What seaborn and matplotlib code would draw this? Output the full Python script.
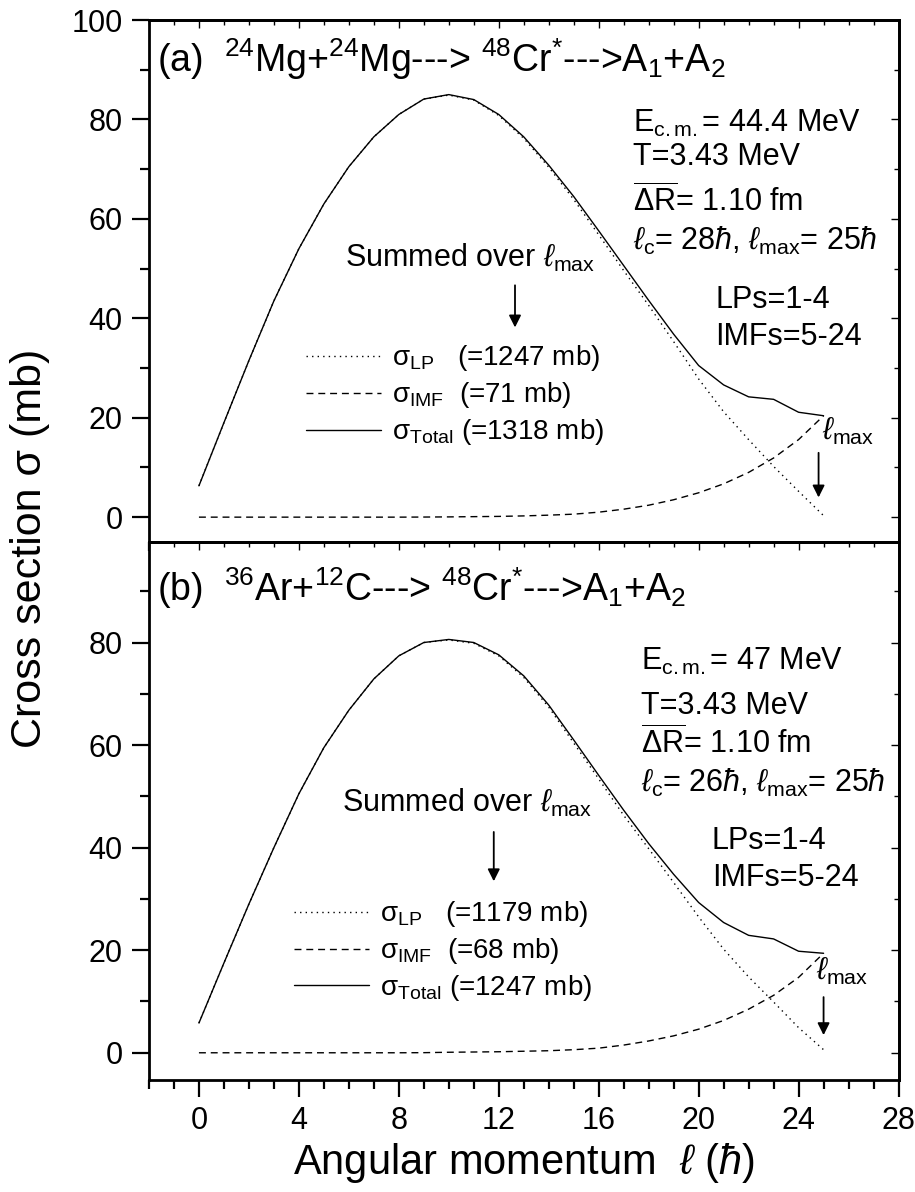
import matplotlib
matplotlib.use('Agg')
import pandas as pd
import matplotlib.pyplot as plt
from matplotlib.ticker import MultipleLocator
import seaborn as sns

sns.set_style('ticks')
plt.rcParams['font.family'] = ['Liberation Sans', 'DejaVu Sans']
plt.rcParams['mathtext.fontset'] = 'custom'
plt.rcParams['mathtext.rm'] = 'Liberation Sans'
plt.rcParams['mathtext.it'] = 'Liberation Sans:italic'
plt.rcParams['mathtext.bf'] = 'Liberation Sans:bold'
plt.rcParams['axes.linewidth'] = 2.0
for key in ['text.color', 'axes.labelcolor', 'axes.edgecolor', 'xtick.color', 'ytick.color']:
    plt.rcParams[key] = 'black'

# angular momentum l (hbar)
ell = list(range(26))

# (a) 24Mg+24Mg
total_a = [6.3, 19.0, 31.5, 43.5, 54.0, 63.0, 70.5, 76.5, 81.0, 84.1, 85.0, 84.0, 81.0,
           76.5, 70.8, 64.5, 57.6, 50.6, 43.6, 36.8, 30.5, 26.6, 24.2, 23.7, 21.1, 20.4]
lp_a = [6.3, 19.0, 31.5, 43.5, 54.0, 63.0, 70.5, 76.5, 81.0, 84.1, 84.9, 83.9, 80.8,
        76.2, 70.4, 63.9, 56.8, 49.6, 42.6, 35.3, 27.8, 21.2, 15.6, 10.2, 5.2, 0.3]
imf_a = [0.0, 0.0, 0.0, 0.0, 0.0, 0.0, 0.0, 0.0, 0.0, 0.02, 0.05, 0.1, 0.15,
         0.25, 0.4, 0.6, 1.0, 1.6, 2.4, 3.5, 4.9, 6.7, 9.0, 11.9, 15.6, 20.4]

# (b) 36Ar+12C
total_b = [5.8, 17.5, 29.0, 40.0, 50.5, 59.5, 66.8, 72.9, 77.4, 80.0, 80.6, 80.0, 77.6,
           73.5, 67.8, 61.0, 54.1, 47.3, 40.8, 34.8, 29.3, 25.4, 22.9, 22.2, 19.8, 19.4]
lp_b = [5.8, 17.5, 29.0, 40.0, 50.5, 59.5, 66.8, 72.9, 77.4, 80.0, 80.5, 79.85, 77.4,
        73.2, 67.4, 60.4, 53.4, 46.3, 39.8, 33.2, 26.5, 20.2, 14.8, 9.9, 4.9, 0.6]
imf_b = [0.0, 0.0, 0.0, 0.0, 0.0, 0.0, 0.0, 0.0, 0.0, 0.02, 0.1, 0.15, 0.2,
         0.3, 0.4, 0.6, 0.9, 1.5, 2.3, 3.3, 4.6, 6.3, 8.5, 11.2, 14.7, 19.4]

sums_a = ['1247', '71', '1318']
sums_b = ['1179', '68', '1247']

panels = [
    dict(tag='a', total=total_a, lp=lp_a, imf=imf_a, sums=sums_a,
         title=r'(a)  $^{24}$Mg+$^{24}$Mg---> $^{48}$Cr$^{*}$--->A$_{1}$+A$_{2}$',
         info=[r'E$_{\mathrm{c.m.}}$= 44.4 MeV', 'T=3.43 MeV', r'$\overline{\Delta \mathrm{R}}$= 1.10 fm',
               r'$\ell_{\mathrm{c}}$= 28$\hbar$, $\ell_{\mathrm{max}}$= 25$\hbar$']),
    dict(tag='b', total=total_b, lp=lp_b, imf=imf_b, sums=sums_b,
         title=r'(b)  $^{36}$Ar+$^{12}$C---> $^{48}$Cr$^{*}$--->A$_{1}$+A$_{2}$',
         info=[r'E$_{\mathrm{c.m.}}$= 47 MeV', 'T=3.43 MeV', r'$\overline{\Delta \mathrm{R}}$= 1.10 fm',
               r'$\ell_{\mathrm{c}}$= 26$\hbar$, $\ell_{\mathrm{max}}$= 25$\hbar$']),
]

# layout / annotation positions (data coords) per panel
layout = dict(
    a=dict(rect=[0.1628, 0.5453, 0.8192, 0.4379], ylim=(-5, 100),
           title_xy=(-1.66, 89.6), info_x=17.38, info_y=[77.5, 70.8, 61.4, 53.7],
           frag_x=20.66, frag_y=[42.0, 34.6], sum_xy=(5.86, 50.4),
           sum_arrow=(12.65, 47.2, 37.6), leg_xy=(4.3, 24.5),
           lmax_xy=(24.95, 15.5), lmax_arrow=(24.8, 13.5, 3.4)),
    b=dict(rect=[0.1628, 0.0940, 0.8192, 0.4513], ylim=(-5.3, 99.6),
           title_xy=(-1.66, 88.0), info_x=17.7, info_y=[74.6, 66.1, 58.3, 50.8],
           frag_x=20.53, frag_y=[39.7, 32.5], sum_xy=(5.73, 46.9),
           sum_arrow=(11.8, 43.6, 32.9), leg_xy=(3.8, 19.8),
           lmax_xy=(24.7, 14.3), lmax_arrow=(25.0, 11.4, 2.9)),
)

style_dashes = {'LP': (1, 3), 'IMF': (5, 3.5), 'Total': ''}

fig = plt.figure(figsize=(9.15, 11.92), dpi=100)

for p in panels:
    lay = layout[p['tag']]
    ax = fig.add_axes(lay['rect'])
    df = pd.concat([
        pd.DataFrame({'l': ell, 'sigma': p['lp'], 'comp': 'LP'}),
        pd.DataFrame({'l': ell, 'sigma': p['imf'], 'comp': 'IMF'}),
        pd.DataFrame({'l': ell, 'sigma': p['total'], 'comp': 'Total'}),
    ], ignore_index=True)
    sns.lineplot(data=df, x='l', y='sigma', style='comp', dashes=style_dashes,
                 color='black', linewidth=1.0, legend=False, ax=ax)

    ax.set_xlim(-2, 28)
    ax.set_ylim(*lay['ylim'])
    ax.xaxis.set_major_locator(MultipleLocator(4))
    ax.xaxis.set_minor_locator(MultipleLocator(1))
    ax.yaxis.set_major_locator(MultipleLocator(20))
    ax.yaxis.set_minor_locator(MultipleLocator(10))
    ax.tick_params(which='major', direction='out', length=12, width=1.6, labelsize=22, pad=7)
    ax.tick_params(which='minor', direction='out', length=6.5, width=1.6)
    ax.set_xlabel('')
    ax.set_ylabel('')

    # inward ticks on top and right
    sec_x = ax.secondary_xaxis('top')
    sec_x.xaxis.set_major_locator(MultipleLocator(4))
    sec_x.xaxis.set_minor_locator(MultipleLocator(1))
    sec_x.tick_params(which='both', direction='in', labeltop=False, width=1.0)
    sec_x.tick_params(which='major', length=6)
    sec_x.tick_params(which='minor', length=3.5)
    sec_y = ax.secondary_yaxis('right')
    sec_y.yaxis.set_major_locator(MultipleLocator(20))
    sec_y.yaxis.set_minor_locator(MultipleLocator(10))
    sec_y.tick_params(which='both', direction='in', labelright=False, width=1.0)
    sec_y.tick_params(which='major', length=6)
    sec_y.tick_params(which='minor', length=3.5)

    # legend
    lines = ax.get_lines()[:3]
    labels = [r'σ$_{\mathrm{LP}}$   (=%s mb)' % p['sums'][0],
              r'σ$_{\mathrm{IMF}}$  (=%s mb)' % p['sums'][1],
              r'σ$_{\mathrm{Total}}$ (=%s mb)' % p['sums'][2]]
    ax.legend(lines, labels, loc='center left', bbox_to_anchor=lay['leg_xy'],
              bbox_transform=ax.transData, frameon=False, fontsize=20,
              handlelength=2.7, handletextpad=0.4, labelspacing=0.25,
              borderpad=0, borderaxespad=0)

    ax.text(*lay['title_xy'], p['title'], fontsize=27, ha='left', va='baseline')
    for txt, yy in zip(p['info'], lay['info_y']):
        ax.text(lay['info_x'], yy, txt, fontsize=22, ha='left', va='baseline')
    ax.text(lay['frag_x'], lay['frag_y'][0], 'LPs=1-4', fontsize=22, ha='left', va='baseline')
    ax.text(lay['frag_x'], lay['frag_y'][1], 'IMFs=5-24', fontsize=22, ha='left', va='baseline')
    ax.text(*lay['sum_xy'], r'Summed over $\ell_{\mathrm{max}}$', fontsize=22, ha='left', va='baseline')
    sx, sy0, sy1 = lay['sum_arrow']
    ax.annotate('', xy=(sx, sy1), xytext=(sx, sy0),
                arrowprops=dict(arrowstyle='-|>', color='black', lw=1.3, mutation_scale=18))
    ax.text(*lay['lmax_xy'], r'$\ell_{\mathrm{max}}$', fontsize=22, ha='left', va='baseline')
    mx, my0, my1 = lay['lmax_arrow']
    ax.annotate('', xy=(mx, my1), xytext=(mx, my0),
                arrowprops=dict(arrowstyle='-|>', color='black', lw=1.3, mutation_scale=18))

    if p['tag'] == 'a':
        ax.tick_params(labelbottom=False)
    else:
        ax.set_xlabel(r'Angular momentum  $\ell$ ($\hbar$)', fontsize=30, labelpad=3)

fig.text(0.033, 0.54, 'Cross section σ (mb)', rotation=90, fontsize=31, ha='center', va='center')

fig.savefig('out.png', dpi=100)
